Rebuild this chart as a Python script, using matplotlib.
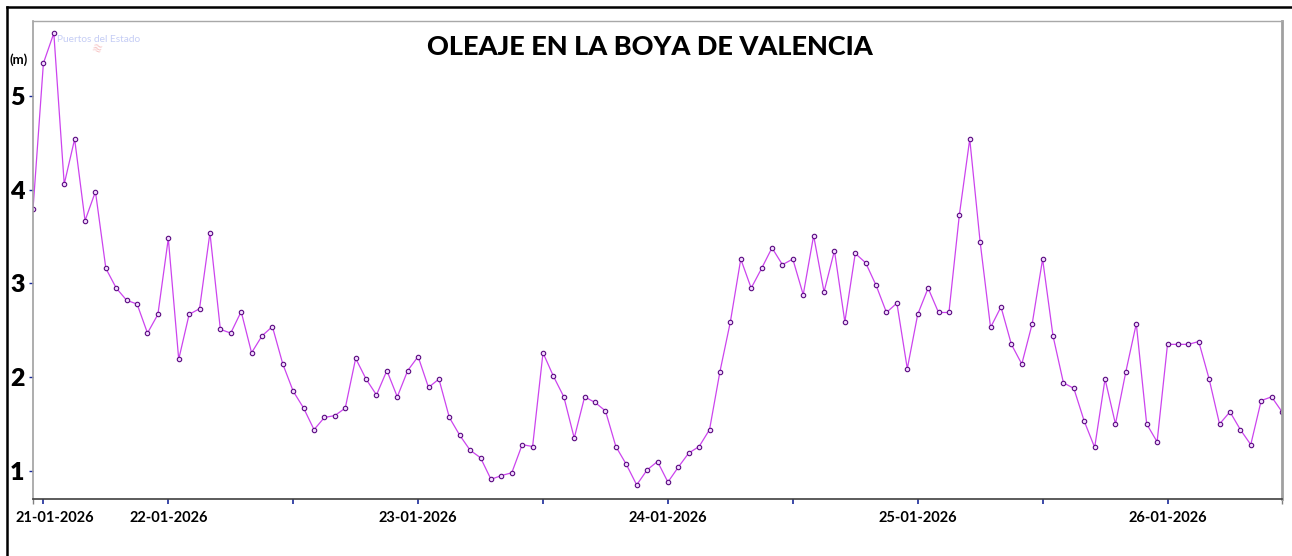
import pandas as pd
import matplotlib
matplotlib.use('Agg')
import matplotlib.pyplot as plt
from matplotlib.lines import Line2D
from matplotlib.transforms import ScaledTranslation

# hourly significant wave height (m), from 21-01-2026 11:00
heights = [3.79, 5.35, 5.67, 4.06, 4.54, 3.67, 3.98, 3.16, 2.95, 2.82,
           2.78, 2.47, 2.67, 3.48, 2.19, 2.67, 2.73, 3.54, 2.51, 2.47,
           2.70, 2.26, 2.44, 2.54, 2.14, 1.85, 1.67, 1.44, 1.57, 1.59,
           1.67, 2.20, 1.98, 1.81, 2.07, 1.79, 2.07, 2.22, 1.89, 1.98,
           1.57, 1.38, 1.22, 1.14, 0.91, 0.95, 0.98, 1.28, 1.26, 2.26,
           2.01, 1.79, 1.35, 1.79, 1.73, 1.64, 1.26, 1.07, 0.85, 1.01,
           1.10, 0.88, 1.04, 1.19, 1.26, 1.44, 2.06, 2.59, 3.26, 2.95,
           3.16, 3.38, 3.20, 3.26, 2.88, 3.51, 2.91, 3.35, 2.59, 3.32,
           3.22, 2.98, 2.69, 2.79, 2.09, 2.67, 2.95, 2.69, 2.69, 3.73,
           4.54, 3.44, 2.53, 2.75, 2.35, 2.14, 2.57, 3.26, 2.44, 1.94,
           1.88, 1.53, 1.25, 1.98, 1.50, 2.06, 2.57, 1.50, 1.31, 2.35,
           2.35, 2.35, 2.38, 1.98, 1.50, 1.63, 1.44, 1.28, 1.75, 1.79,
           1.63]
start = '2026-01-21 11:00'
times = pd.date_range(start, periods=len(heights), freq='h')

tick_times = pd.date_range('2026-01-21 12:00', '2026-01-26 00:00', freq='12h')
tick_labels = [t.strftime('%d-%m-%Y') if t.hour == 0 else '' for t in tick_times]
tick_labels[0] = '21-01-2026'
y_ticks = [1, 2, 3, 4, 5]

plt.rcParams['font.family'] = ['Lato', 'DejaVu Sans']

fig = plt.figure(figsize=(12.92, 5.56), dpi=100)
ax = fig.add_axes([33/1292, 57/556, 1249/1292, 478/556])

ax.plot(times, heights, color='#cc44ee', lw=0.9, marker='o', markersize=3.2,
        markerfacecolor='#f2d9ff', markeredgecolor='#5a0a80', markeredgewidth=0.8)

ax.set_xlim(times[0], times[-1])
ax.set_ylim(0.70, 5.80)

ax.set_xticks(tick_times)
ax.set_xticklabels(tick_labels)
ax.set_xticks([times[0], times[-1]], minor=True)
ax.set_yticks(y_ticks)
ax.set_yticklabels([str(v) for v in y_ticks])

ax.tick_params(axis='x', which='major', length=3.5, width=1.2, color='#1a2a9a',
               labelsize=10.5, pad=5)
ax.tick_params(axis='x', which='minor', length=3.5, width=1, color='#808080')
ax.tick_params(axis='y', length=3, width=1, color='#1a2a9a', labelsize=18, pad=3)
for lab in ax.get_xticklabels():
    lab.set_fontweight('bold')
for lab in ax.get_yticklabels():
    lab.set_fontweight('heavy')
first = ax.get_xticklabels()[0]
first.set_transform(first.get_transform() + ScaledTranslation(0.11, 0, fig.dpi_scale_trans))

ax.spines['left'].set_color('#a0a0a0')
ax.spines['left'].set_linewidth(1.2)
ax.spines['top'].set_color('#a8a8a8')
ax.spines['top'].set_linewidth(1)
ax.spines['right'].set_color('#a0a0a0')
ax.spines['right'].set_linewidth(2)
ax.spines['bottom'].set_color('#404040')
ax.spines['bottom'].set_linewidth(1.2)

fig.text(650/1292, 1 - 47/556, 'OLEAJE EN LA BOYA DE VALENCIA', ha='center', va='center',
         fontsize=19.5, fontweight='black')
fig.text(19/1292, 1 - 60/556, '(m)', ha='center', va='center', fontsize=9.5, fontweight='bold')
fig.text(57/1292, 1 - 40/556, 'Puertos del Estado', ha='left', va='center',
         fontsize=7.3, color='#c5cdf5')
fig.text(97/1292, 1 - 49/556, '≋', ha='center', va='center', fontsize=9,
         color='#f7c8c8', rotation=-20, family=['DejaVu Sans'])

# outer frame (top and left edges)
fig.add_artist(Line2D([7/1292, 1], [1 - 7/556, 1 - 7/556], color='black', lw=1.8,
                      transform=fig.transFigure))
fig.add_artist(Line2D([7/1292, 7/1292], [0, 1 - 7/556], color='black', lw=1.8,
                      transform=fig.transFigure))

fig.savefig('out.png', dpi=100)
